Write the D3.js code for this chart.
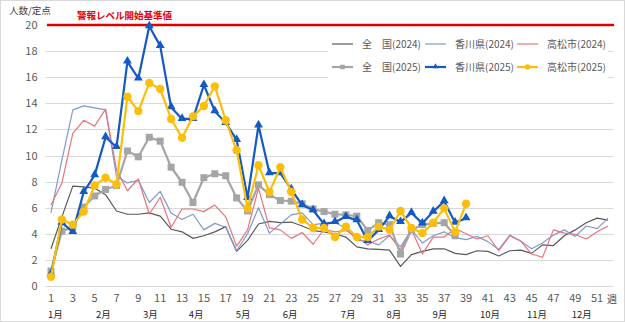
<!DOCTYPE html>
<html lang="ja">
<head>
<meta charset="utf-8">
<style>
  body { margin: 0; background: #fff; }
  text { font-family: "Noto Sans CJK JP", "Noto Sans", sans-serif; }
</style>
<script src="https://cdn.jsdelivr.net/npm/d3@7/dist/d3.min.js"></script>
</head>
<body>
<svg width="625" height="322"></svg>
<script>
// 週別 定点当たり報告数
var weeks = d3.range(1, 53);
var yTicks = [0, 2, 4, 6, 8, 10, 12, 14, 16, 18, 20];
var xTicks = d3.range(1, 53, 2);
var alertLevel = 20;

var months = ["1月", "2月", "3月", "4月", "5月", "6月", "7月", "8月", "9月", "10月", "11月", "12月"];
var monthWeek = [1.4, 5.8, 10.1, 14.3, 18.6, 22.9, 28.2, 32.4, 36.6, 41.2, 45.5, 49.6];

var zenkoku2024 = [2.85, 5.3, 7.65, 7.6, 7.5, 7.0, 5.75, 5.5, 5.5, 5.6, 5.35, 4.35, 4.15, 3.65, 3.85, 4.15, 4.55, 2.65, 3.5, 4.75,
  4.95, 4.85, 4.9, 4.6, 4.25, 4.15, 4.0, 3.75, 3.0, 2.85, 2.8, 2.75, 1.5, 2.4, 2.65, 2.85, 2.85, 2.5, 2.4, 2.7,
  2.65, 2.3, 2.7, 2.75, 2.5, 3.15, 3.1, 3.85, 4.3, 4.85, 5.2, 5.05];
var kagawa2024 = [5.6, 9.65, 13.5, 13.8, 13.65, 13.5, 8.4, 7.9, 8.1, 6.4, 7.25, 5.6, 5.1, 5.5, 4.3, 4.8, 4.5, 2.7, 4.0, 6.0,
  4.05, 4.75, 5.45, 5.6, 4.7, 4.8, 4.85, 4.45, 3.5, 3.45, 3.15, 3.85, 3.0, 4.3, 3.3, 3.85, 4.15, 3.7, 3.55, 3.8,
  3.4, 2.8, 3.9, 3.45, 2.85, 3.3, 3.9, 4.3, 3.8, 4.6, 4.4, 5.2];
var takamatsu2024 = [6.2, 7.9, 11.7, 12.7, 12.25, 13.55, 8.9, 7.3, 8.2, 5.5, 6.8, 4.5, 5.9, 5.9, 5.7, 6.2, 5.3, 3.05, 4.3, 7.5,
  4.45, 4.3, 3.65, 4.1, 3.2, 4.35, 4.15, 4.25, 3.75, 3.15, 3.6, 3.9, 2.75, 4.35, 2.45, 3.75, 3.75, 4.4, 4.0, 3.6,
  3.85, 2.7, 3.85, 3.45, 2.45, 2.2, 4.3, 4.05, 3.95, 3.6, 4.15, 4.6];
var zenkoku2025 = [1.15, 4.2, 4.5, 6.05, 6.9, 7.4, 7.7, 10.35, 9.9, 11.4, 11.1, 9.1, 7.95, 6.4, 8.3, 8.6, 8.45, 6.75, 5.75, 7.75,
  7.0, 6.55, 6.5, 6.3, 5.9, 5.7, 5.5, 5.45, 5.35, 4.25, 4.85, 4.7, 2.45, 4.3, 4.7, 4.8, 4.85, 3.85];
var kagawa2025 = [0.9, 4.85, 4.15, 7.2, 8.5, 11.4, 10.65, 17.2, 15.9, 19.9, 18.4, 13.7, 12.8, 12.8, 15.4, 13.4, 12.5, 11.2, 6.75, 12.3,
  8.65, 8.65, 7.4, 6.2, 5.8, 4.75, 4.9, 5.3, 5.05, 3.45, 4.3, 5.35, 4.9, 5.6, 4.8, 5.7, 6.5, 4.85, 5.2];
var takamatsu2025 = [0.7, 5.1, 4.7, 5.7, 7.7, 8.3, 7.8, 14.5, 13.4, 15.55, 15.1, 12.8, 11.35, 13.0, 13.8, 15.3, 12.7, 10.4, 5.95, 9.25,
  7.2, 9.1, 7.2, 5.1, 4.45, 4.45, 3.75, 4.55, 3.75, 3.75, 4.55, 4.3, 5.75, 4.45, 4.05, 4.85, 5.95, 4.15, 6.3];

var series = [
  { name: "全　国(2024)", values: zenkoku2024, color: "#595959", width: 1.2, marker: null },
  { name: "香川県(2024)", values: kagawa2024, color: "#7f9bc8", width: 1.2, marker: null },
  { name: "高松市(2024)", values: takamatsu2024, color: "#e8737b", width: 1.2, marker: null },
  { name: "全　国(2025)", values: zenkoku2025, color: "#a5a5a5", width: 2.2, marker: "square" },
  { name: "香川県(2025)", values: kagawa2025, color: "#1459c4", width: 2.2, marker: "triangle" },
  { name: "高松市(2025)", values: takamatsu2025, color: "#fbbf0a", width: 2.2, marker: "circle" }
];

var svg = d3.select("svg");

svg.append("rect")
  .attr("x", 0.5).attr("y", 0.5)
  .attr("width", 624).attr("height", 321)
  .attr("fill", "#fff").attr("stroke", "#d9d9d9");

var x = d3.scaleBand().domain(weeks).range([45.5, 613.5]).padding(0);
var bw = x.bandwidth();
function xc(w) { return x(w) + bw / 2; }
var y = d3.scaleLinear().domain([0, 20]).range([286, 25]);

// grid
svg.append("g").selectAll("line")
  .data(yTicks)
  .enter().append("line")
  .attr("x1", 45.5).attr("x2", 613.5)
  .attr("y1", function(d) { return Math.round(y(d)) + 0.5; })
  .attr("y2", function(d) { return Math.round(y(d)) + 0.5; })
  .attr("stroke", "#d9d9d9").attr("stroke-width", 1);

// y labels
var yAxis = d3.axisLeft(y).tickValues(yTicks).tickSize(0).tickPadding(8);
var gy = svg.append("g").attr("transform", "translate(45.5,0)").call(yAxis);
gy.select(".domain").remove();
gy.selectAll("text").style("font-size", "11px").style("fill", "#595959");

// x labels
var xAxis = d3.axisBottom(x).tickValues(xTicks).tickSize(0).tickPadding(8);
var gx = svg.append("g").attr("transform", "translate(0,286)").call(xAxis);
gx.select(".domain").remove();
gx.selectAll("text").style("font-size", "11px").style("fill", "#595959");

svg.append("text").attr("x", 612).attr("y", 303)
  .attr("text-anchor", "middle").style("font-size", "10px").style("fill", "#404040").text("週");

svg.append("g").selectAll("text")
  .data(months)
  .enter().append("text")
  .attr("x", function(d, i) { return xc(1) + (monthWeek[i] - 1) * bw; })
  .attr("y", 318)
  .attr("text-anchor", "middle")
  .style("font-size", "9.5px")
  .style("fill", "#262626")
  .text(function(d) { return d; });

svg.append("text").attr("x", 9).attr("y", 14)
  .style("font-size", "9.5px").style("fill", "#404040").text("人数/定点");

// alert level
svg.append("line")
  .attr("x1", 47).attr("x2", 614)
  .attr("y1", y(alertLevel)).attr("y2", y(alertLevel))
  .attr("stroke", "#e00000").attr("stroke-width", 2.5);
svg.append("text").attr("x", 77).attr("y", 19)
  .style("font-size", "9.5px").style("font-weight", "bold")
  .style("fill", "#e00000").text("警報レベル開始基準値");

// legend background
svg.append("rect").attr("x", 328).attr("y", 33).attr("width", 280).attr("height", 46).attr("fill", "#fff");

var line = d3.line()
  .x(function(d, i) { return xc(weeks[i]); })
  .y(function(d) { return y(d); });

function drawMarker(g, type, color, cx, cy, k) {
  k = k || 1;
  if (type === "square") {
    g.append("rect").attr("x", cx - 3.5 * k).attr("y", cy - 3.5 * k).attr("width", 7 * k).attr("height", 7 * k).attr("fill", color);
  } else if (type === "triangle") {
    g.append("path").attr("d", d3.symbol().type(d3.symbolTriangle).size(34 * k * k)()).attr("transform", "translate(" + cx + "," + (cy - 0.5) + ")").attr("fill", color);
  } else if (type === "circle") {
    g.append("circle").attr("cx", cx).attr("cy", cy).attr("r", 4.2 * k).attr("fill", color);
  }
}

series.forEach(function(s) {
  var g = svg.append("g");
  g.append("path")
    .datum(s.values)
    .attr("d", line)
    .attr("fill", "none")
    .attr("stroke", s.color)
    .attr("stroke-width", s.width)
    .attr("stroke-linejoin", "round");
  if (s.marker) {
    s.values.forEach(function(v, i) {
      drawMarker(g, s.marker, s.color, xc(weeks[i]), y(v));
    });
  }
});

// legend
var legX = [332, 425, 517];
var legY = [44, 67];
series.forEach(function(s, i) {
  var lx = legX[i % 3], ly = legY[Math.floor(i / 3)];
  var g = svg.append("g");
  g.append("line").attr("x1", lx).attr("x2", lx + 21).attr("y1", ly).attr("y2", ly)
    .attr("stroke", s.color).attr("stroke-width", s.width);
  if (s.marker) drawMarker(g, s.marker, s.color, lx + 10.5, ly, 0.65);
  g.append("text").attr("x", lx + 30).attr("y", ly + 4)
    .style("font-size", "10px").style("fill", "#595959").text(s.name);
});
</script>
</body>
</html>
